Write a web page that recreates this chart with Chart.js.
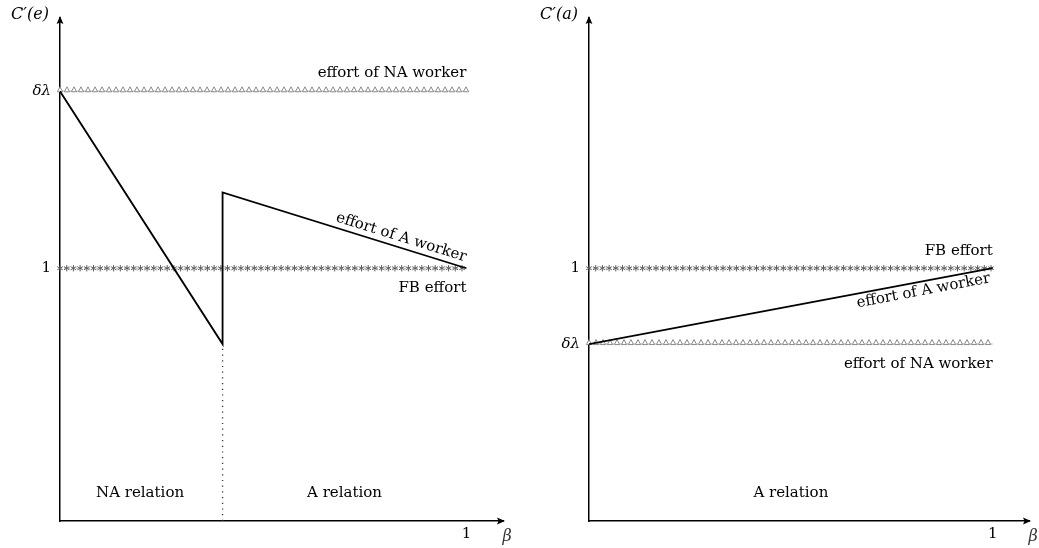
<!DOCTYPE html>
<html>
<head>
<meta charset="utf-8">
<script src="https://cdn.jsdelivr.net/npm/chart.js@4.4.1/dist/chart.umd.min.js"></script>
<style>
  html, body { margin: 0; padding: 0; background: #fff; }
  #wrap { position: relative; width: 1039px; height: 548px; }
  .panel { position: absolute; top: 0; height: 548px; }
  #left { left: 0; width: 520px; }
  #right { left: 520px; width: 519px; }
</style>
</head>
<body>
<div id="wrap">
  <div class="panel" id="left"><canvas id="chartE"></canvas></div>
  <div class="panel" id="right"><canvas id="chartA"></canvas></div>
</div>
<script>
'use strict';

var FONT = '"DejaVu Serif", serif';

// x axis (beta)
var xTicks = [1];
var xTickLabels = ['1'];

// left panel: C'(e)
var leftBeta = [0, 0.4, 0.4, 1];
var leftEffortA = [1.70, 0.70, 1.30, 1.00];
var leftNA = 1.70;          // effort of NA worker = delta lambda
var leftFB = 1.00;          // first best effort
var leftCut = 0.4;          // switch NA relation -> A relation
var leftYTicks = [1.00, 1.70];
var leftYLabels = ['1', 'δλ'];

// right panel: C'(a)
var rightBeta = [0, 1];
var rightEffortA = [0.70, 1.00];
var rightNA = 0.70;
var rightFB = 1.00;
var rightYTicks = [0.70, 1.00];
var rightYLabels = ['δλ', '1'];


function flat(y) {
  return [{ x: 0, y: y }, { x: 1, y: y }];
}

function pairs(xs, ys) {
  return xs.map(function (x, i) { return { x: x, y: ys[i] }; });
}

function drawTriangle(c, x, y) {
  c.beginPath();
  c.moveTo(x - 2.6, y + 0.5);
  c.lineTo(x, y - 4.5);
  c.lineTo(x + 2.6, y + 0.5);
  c.closePath();
  c.fillStyle = '#fff';
  c.fill();
  c.strokeStyle = '#808080';
  c.lineWidth = 0.9;
  c.stroke();
}

function drawStar(c, x, y) {
  c.strokeStyle = '#5e5e5e';
  c.lineWidth = 1;
  c.beginPath();
  for (var k = 0; k < 3; k++) {
    var a = Math.PI / 2 + k * Math.PI / 3;
    c.moveTo(x - Math.cos(a) * 3.2, y - Math.sin(a) * 3.2);
    c.lineTo(x + Math.cos(a) * 3.2, y + Math.sin(a) * 3.2);
  }
  c.stroke();
}

// marks drawn along the NA (triangles) and FB (asterisks) lines
var decoPlugin = {
  id: 'deco',
  afterDatasetDraw: function (chart, args) {
    var ds = chart.data.datasets[args.index];
    if (!ds.deco) return;
    var pts = args.meta.data;
    var a = pts[0], b = pts[pts.length - 1];
    var len = Math.hypot(b.x - a.x, b.y - a.y);
    var step = ds.deco === 'triangle' ? 7 : 6.7;
    var c = chart.ctx;
    c.save();
    for (var s = 0; s <= len + 0.1; s += step) {
      var x = a.x + (b.x - a.x) * s / len;
      var y = a.y + (b.y - a.y) * s / len;
      if (ds.deco === 'triangle') drawTriangle(c, x, y);
      else drawStar(c, x, y);
    }
    c.restore();
  }
};

// axis arrows, axis names and the text notes
function makeOverlay(yName, notes) {
  return {
    id: 'overlay',
    afterDraw: function (chart) {
      var c = chart.ctx;
      var area = chart.chartArea;
      var xs = chart.scales.x, ys = chart.scales.y;
      c.save();
      c.fillStyle = '#000';

      // arrow heads
      c.beginPath();
      c.moveTo(area.right + 2, area.bottom);
      c.lineTo(area.right - 6, area.bottom - 3.4);
      c.lineTo(area.right - 4.5, area.bottom);
      c.lineTo(area.right - 6, area.bottom + 3.4);
      c.closePath();
      c.fill();
      c.beginPath();
      c.moveTo(area.left, area.top - 2);
      c.lineTo(area.left - 3.4, area.top + 6);
      c.lineTo(area.left, area.top + 4.5);
      c.lineTo(area.left + 3.4, area.top + 6);
      c.closePath();
      c.fill();

      c.textBaseline = 'middle';
      c.textAlign = 'center';
      c.font = 'italic 16px ' + FONT;
      c.fillText(yName, area.left - 30, area.top - 3);
      c.fillStyle = '#333';
      c.fillText('β', area.right + 4, area.bottom + 16);
      c.fillStyle = '#000';

      c.font = '15px ' + FONT;
      notes.forEach(function (n) {
        if (n.seg) {
          var pts = chart.getDatasetMeta(n.seg[0]).data;
          var a = pts[n.seg[1]], b = pts[n.seg[2]];
          var ang = Math.atan2(b.y - a.y, b.x - a.x);
          var px = a.x + (b.x - a.x) * n.t - Math.sin(ang) * n.off;
          var py = a.y + (b.y - a.y) * n.t + Math.cos(ang) * n.off;
          c.save();
          c.translate(px, py);
          c.rotate(ang);
          c.textAlign = 'center';
          c.fillText(n.text, 0, 0);
          c.restore();
        } else {
          c.textAlign = n.align || 'center';
          c.fillText(n.text, xs.getPixelForValue(n.x), ys.getPixelForValue(n.y));
        }
      });
      c.restore();
    }
  };
}

function makeChart(id, cfg) {
  return new Chart(document.getElementById(id), {
    type: 'scatter',
    data: { datasets: cfg.datasets },
    options: {
      responsive: true,
      maintainAspectRatio: false,
      animation: false,
      layout: { padding: cfg.padding },
      plugins: { legend: { display: false }, tooltip: { enabled: false } },
      elements: { point: { radius: 0, hoverRadius: 0 }, line: { tension: 0 } },
      scales: {
        x: {
          type: 'linear', min: 0, max: 1.09,
          grid: { display: false, drawTicks: false },
          border: { color: '#000', width: 1.5 },
          afterBuildTicks: function (s) { s.ticks = xTicks.map(function (v) { return { value: v }; }); },
          afterFit: function (s) { s.height = 27; },
          ticks: {
            callback: function (v, i) { return xTickLabels[i]; },
            font: { family: FONT, size: 15 }, color: '#000', padding: 4,
            autoSkip: false, maxRotation: 0
          }
        },
        y: {
          type: 'linear', min: 0, max: 1.99,
          grid: { display: false, drawTicks: false },
          border: { color: '#000', width: 1.5 },
          afterBuildTicks: function (s) { s.ticks = cfg.yTicks.map(function (v) { return { value: v }; }); },
          afterFit: function (s) { s.width = cfg.yWidth; },
          ticks: {
            callback: function (v, i) { return cfg.yLabels[i]; },
            font: function (ctx) {
              return { family: FONT, size: 15, style: ctx.tick && ctx.tick.value !== 1 ? 'italic' : 'normal' };
            },
            color: '#000', padding: 9, autoSkip: false
          }
        }
      }
    },
    plugins: [decoPlugin, makeOverlay(cfg.yName, cfg.notes)]
  });
}

makeChart('chartE', {
  yName: 'C′(e)',
  yTicks: leftYTicks,
  yLabels: leftYLabels,
  yWidth: 60,
  padding: { top: 18, right: 17, left: 0, bottom: 0 },
  datasets: [
    { data: pairs(leftBeta, leftEffortA), showLine: true, borderColor: '#000', borderWidth: 1.8 },
    { data: flat(leftNA), showLine: true, borderColor: '#cccccc', borderWidth: 1.6, deco: 'triangle' },
    { data: flat(leftFB), showLine: true, borderColor: '#b5b5b5', borderWidth: 1, borderDash: [2, 2], deco: 'star' },
    { data: [{ x: leftCut, y: 0 }, { x: leftCut, y: leftEffortA[1] }], showLine: true,
      borderColor: '#333', borderWidth: 1.3, borderDash: [1.2, 4.5] }
  ],
  notes: [
    { text: 'effort of NA worker', x: 1, y: 1.77, align: 'right' },
    { text: 'FB effort', x: 1, y: 0.92, align: 'right' },
    { text: 'effort of A worker', seg: [0, 2, 3], t: 0.72, off: -10 },
    { text: 'NA relation', x: 0.197, y: 0.11 },
    { text: 'A relation', x: 0.70, y: 0.11 }
  ]
});

makeChart('chartA', {
  yName: 'C′(a)',
  yTicks: rightYTicks,
  yLabels: rightYLabels,
  yWidth: 69,
  padding: { top: 18, right: 10, left: 0, bottom: 0 },
  datasets: [
    { data: pairs(rightBeta, rightEffortA), showLine: true, borderColor: '#000', borderWidth: 1.8 },
    { data: flat(rightNA), showLine: true, borderColor: '#cccccc', borderWidth: 1.6, deco: 'triangle' },
    { data: flat(rightFB), showLine: true, borderColor: '#b5b5b5', borderWidth: 1, borderDash: [2, 2], deco: 'star' }
  ],
  notes: [
    { text: 'FB effort', x: 1, y: 1.068, align: 'right' },
    { text: 'effort of A worker', seg: [0, 0, 1], t: 0.824, off: 9.5 },
    { text: 'effort of NA worker', x: 1, y: 0.62, align: 'right' },
    { text: 'A relation', x: 0.5, y: 0.11 }
  ]
});
</script>
</body>
</html>
